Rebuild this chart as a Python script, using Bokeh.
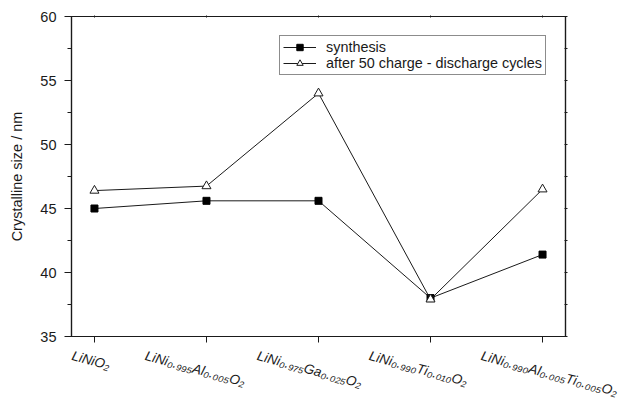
import math
from bokeh.plotting import figure
from bokeh.models import (Range1d, LinearAxis, FixedTicker, Legend, LegendItem,
                          ColumnDataSource)
from bokeh.embed import file_html
from bokeh.resources import INLINE

# ---------------- data ----------------
compounds = ["LiNiO₂",
             "LiNi₀.₉₉₅Al₀.₀₀₅O₂",
             "LiNi₀.₉₇₅Ga₀.₀₂₅O₂",
             "LiNi₀.₉₉₀Ti₀.₀₁₀O₂",
             "LiNi₀.₉₉₀Al₀.₀₀₅Ti₀.₀₀₅O₂"]
x_pos = [0, 1, 2, 3, 4]
synthesis = [45.0, 45.6, 45.6, 38.0, 41.4]
after_cycles = [46.4, 46.75, 54.0, 37.9, 46.5]
y_ticks = [35, 40, 45, 50, 55, 60]
y_minor = [37.5, 42.5, 47.5, 52.5, 57.5]
y_label = "Crystalline size / nm"
legend_labels = ["synthesis", "after 50 charge - discharge cycles"]

FONT = "Liberation Sans"
INK = "#1a1a1a"
X_MIN, X_MAX = -0.205, 4.205

p = figure(frame_width=494, frame_height=320, x_range=Range1d(X_MIN, X_MAX),
           y_range=Range1d(35, 60),
           x_axis_type=None, y_axis_type=None, toolbar_location=None,
           output_backend="svg", min_border_left=71, min_border_right=63,
           min_border_top=16, min_border_bottom=64)
p.background_fill_color = "white"
p.border_fill_color = "white"
p.outline_line_color = INK
p.outline_line_width = 1.2
p.xgrid.visible = False
p.ygrid.visible = False

# ---------------- axes ----------------
left = LinearAxis(ticker=FixedTicker(ticks=y_ticks, minor_ticks=y_minor))
left.axis_line_color = INK
left.axis_line_width = 1.2
left.major_tick_line_color = INK
left.minor_tick_line_color = INK
left.major_tick_in = 0
left.major_tick_out = 7
left.minor_tick_in = 0
left.minor_tick_out = 4
left.major_label_standoff = 8
left.major_label_text_font = FONT
left.major_label_text_font_size = "14.5px"
left.major_label_text_color = INK
left.axis_label = y_label
left.axis_label_text_font = FONT
left.axis_label_text_font_size = "14.5px"
left.axis_label_text_font_style = "normal"
left.axis_label_text_color = INK
left.axis_label_standoff = 12
p.add_layout(left, "left")

right = LinearAxis(ticker=FixedTicker(ticks=y_ticks + y_minor))
right.axis_line_color = INK
right.axis_line_width = 1.2
right.major_tick_line_color = INK
right.major_tick_in = 1
right.major_tick_out = 2
right.minor_tick_line_color = None
right.major_label_text_font_size = "0px"
right.major_label_text_color = None
p.add_layout(right, "right")

# bottom axis: labels sit at shifted anchors (text starts left of the tick),
# the visible tick marks are drawn as minor ticks at the category positions
ang = math.radians(15)
px_per_unit = 112.0
label_anchor = []
for xi, lab in zip(x_pos, compounds):
    est_w = 8.0 * len(lab) * math.cos(ang)
    shift = min(est_w / 2 + 4, 61) / px_per_unit
    label_anchor.append(max(xi - shift, X_MIN + 0.006))

bottom = LinearAxis(ticker=FixedTicker(ticks=label_anchor, minor_ticks=x_pos))
bottom.axis_line_color = INK
bottom.axis_line_width = 1.2
bottom.major_tick_line_color = None
bottom.major_tick_in = 0
bottom.major_tick_out = 0
bottom.minor_tick_line_color = INK
bottom.minor_tick_in = 0
bottom.minor_tick_out = 6
bottom.major_label_overrides = {a: lab for a, lab in zip(label_anchor, compounds)}
bottom.major_label_orientation = -ang
bottom.major_label_standoff = 13
bottom.major_label_text_font = FONT
bottom.major_label_text_font_style = "italic"
bottom.major_label_text_font_size = "13.5px"
bottom.major_label_text_color = INK
p.add_layout(bottom, "below")

top = LinearAxis(ticker=FixedTicker(ticks=x_pos))
top.axis_line_color = INK
top.axis_line_width = 1.2
top.major_tick_line_color = INK
top.major_tick_in = 1
top.major_tick_out = 1
top.minor_tick_line_color = None
top.major_label_text_font_size = "0px"
top.major_label_text_color = None
p.add_layout(top, "above")

# ---------------- series ----------------
src = ColumnDataSource(dict(x=x_pos, s=synthesis, c=after_cycles))
l1 = p.line("x", "s", source=src, line_color=INK, line_width=1)
m1 = p.scatter("x", "s", source=src, marker="square", size=7, fill_color="black",
               line_color="black")
l2 = p.line("x", "c", source=src, line_color=INK, line_width=1)
m2 = p.scatter("x", "c", source=src, marker="triangle", size=9, fill_color="white",
               line_color=INK, line_width=1)

legend = Legend(items=[LegendItem(label=legend_labels[0], renderers=[l1, m1]),
                       LegendItem(label=legend_labels[1], renderers=[l2, m2])],
                location=(208, 261), orientation="vertical")
legend.border_line_color = INK
legend.border_line_width = 1
legend.background_fill_color = "white"
legend.background_fill_alpha = 1
legend.padding = 3
legend.margin = 0
legend.spacing = 0
legend.glyph_width = 33
legend.glyph_height = 16
legend.label_height = 16
legend.label_standoff = 10
legend.label_text_font = FONT
legend.label_text_font_size = "14.4px"
legend.label_text_color = INK
p.add_layout(legend)

open("out.html", "w").write(file_html(p, INLINE))
